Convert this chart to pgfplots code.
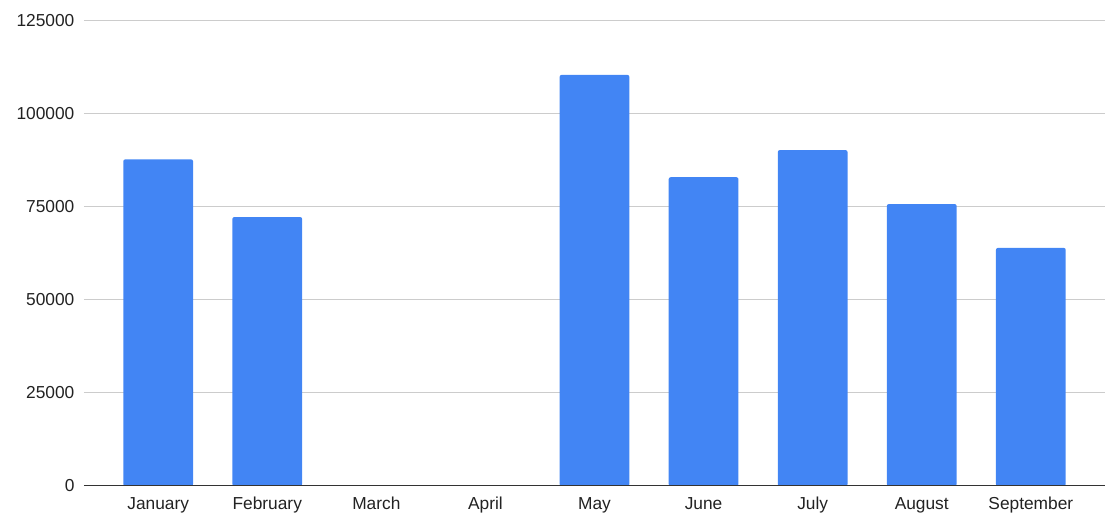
\documentclass[border=0pt]{standalone}
\usepackage{pgfplots}
\pgfplotsset{compat=1.18}
\usepackage{fontspec}
\setmainfont{Liberation Sans}
\definecolor{barblue}{HTML}{4285F4}
\definecolor{gridgray}{HTML}{CCCCCC}
\definecolor{txt}{HTML}{222222}
\definecolor{axisdark}{HTML}{333333}

\begin{document}
\fontsize{13pt}{15pt}\selectfont
\begin{tikzpicture}
    % fix the page to the reference's 1115x532 px (1px = 0.75pt)
    \path[use as bounding box] (-63pt,-34.5pt) rectangle (773.25pt,364.5pt);
    \begin{axis}[
        ybar,
        scale only axis,
        width=765.75pt,
        height=348.75pt,
        bar width=0.64,
        xmin=-0.68, xmax=8.68,
        ymin=0, ymax=125000,
        xtick={0,...,8},
        xticklabels={January,February,March,April,May,June,July,August,September},
        ytick={0,25000,50000,75000,100000,125000},
        scaled y ticks=false,
        /pgf/number format/.cd, fixed, 1000 sep={}, assume math mode=true,
        /pgfplots/.cd,
        ymajorgrids,
        grid style={gridgray, line width=0.75pt},
        major tick length=0pt,
        axis line style={draw=none},
        tick label style={font=\fontsize{13pt}{15pt}\selectfont, text=txt},
        yticklabel style={anchor=east, inner sep=0pt, xshift=-7pt},
        xticklabel style={anchor=north, inner sep=0pt, yshift=-8.25pt},
        ]
        \addplot [fill=barblue, draw=none, rounded corners=1.5pt] coordinates {
            (0,87800)
            (1,72300)
            (4,110500)
            (5,83000)
            (6,90300)
            (7,75800)
            (8,64000)
        };
        \draw[axisdark, line width=0.9pt] (rel axis cs:0,0) -- (rel axis cs:1,0);
    \end{axis}
\end{tikzpicture}
\end{document}
